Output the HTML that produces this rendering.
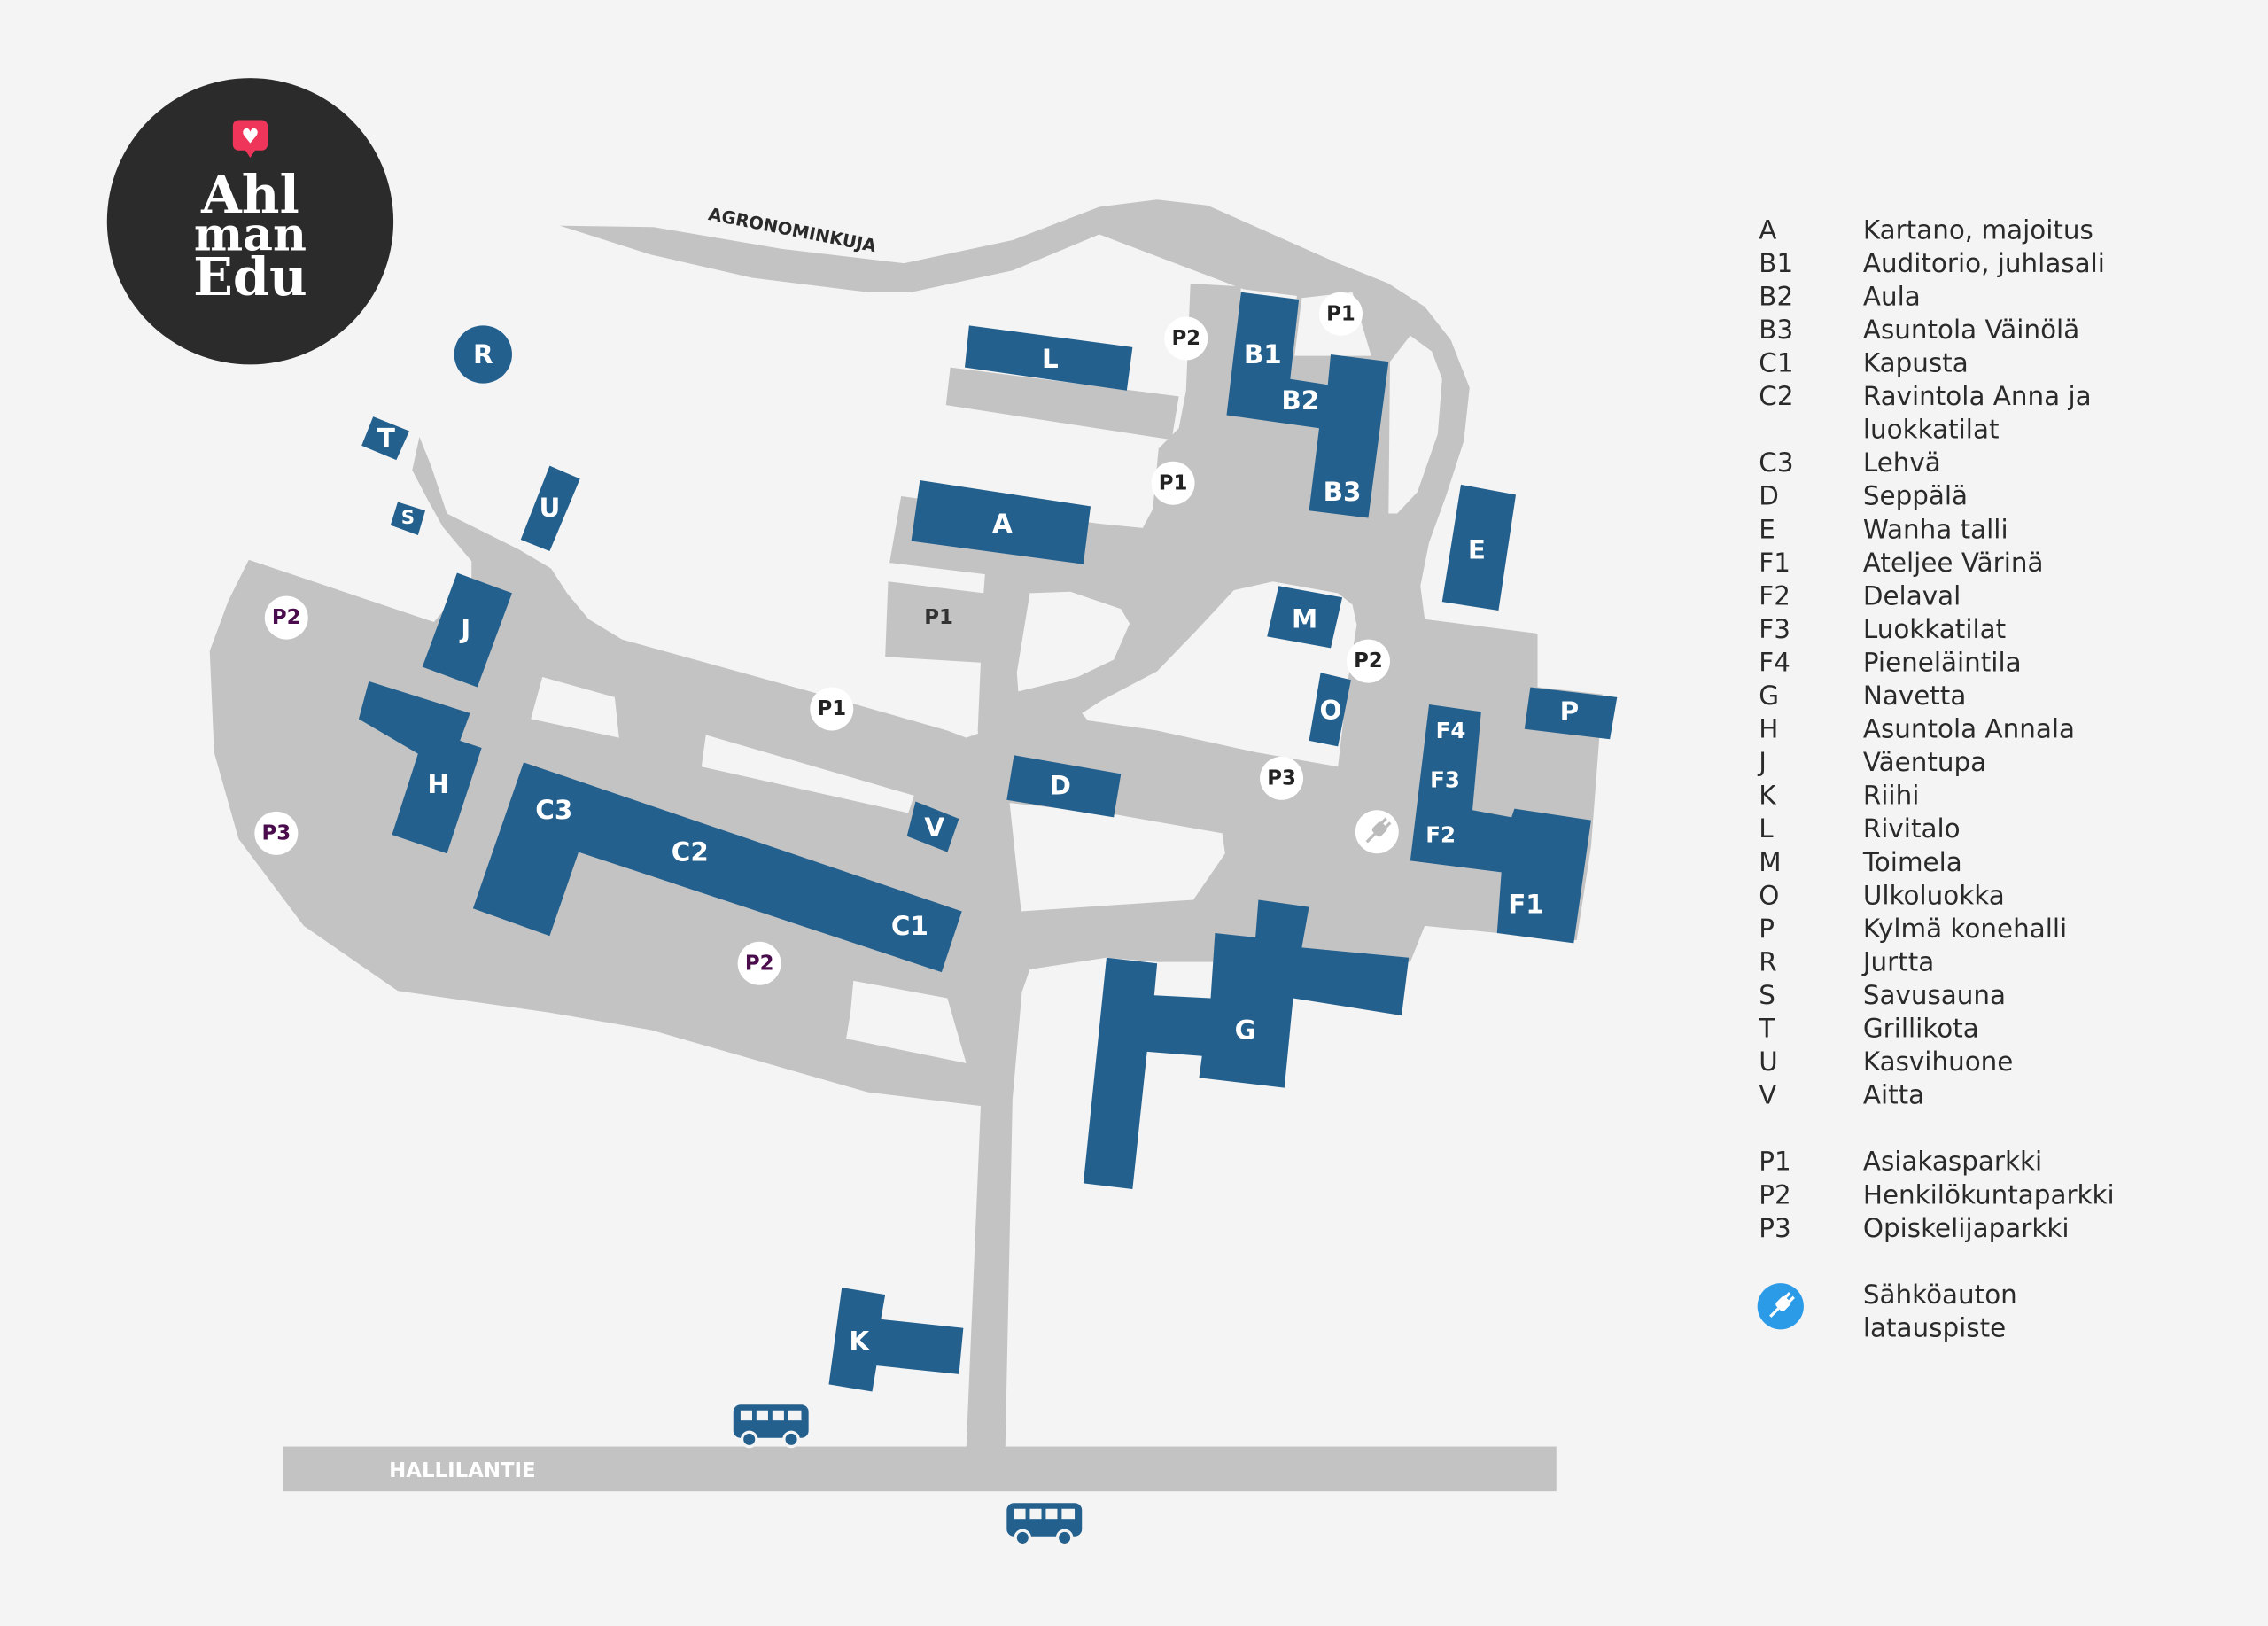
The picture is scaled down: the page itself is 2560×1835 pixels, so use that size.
<!DOCTYPE html>
<html><head><meta charset="utf-8"><style>
html,body{margin:0;padding:0;background:#f4f4f4;}
svg{display:block;}
.lb{font-family:"DejaVu Sans","Liberation Sans",Arial,sans-serif;font-weight:bold;fill:#fff;text-anchor:middle;dominant-baseline:central;}
.pk{font-family:"DejaVu Sans","Liberation Sans",Arial,sans-serif;font-weight:bold;fill:#222;font-size:14px;text-anchor:middle;dominant-baseline:central;}
.pp{fill:#4a0c4c;}
.lg{font-family:"DejaVu Sans","Liberation Sans",Arial,sans-serif;font-size:18px;fill:#2a2a2a;}
</style></head><body>
<svg width="2560" height="1835" viewBox="0 0 1568 1124" preserveAspectRatio="none" xmlns="http://www.w3.org/2000/svg">
<rect width="1568" height="1124" fill="#f4f4f4"/>
<g fill="#c3c3c3">
<polygon points="387,156 452,157 540,172 625,182 700,166 760,143 800,138 835,142 880,162 925,182 960,196 960,215 900,205 860,200 760,162 700,187 630,202 600,202 520,192 450,176"/>
<polygon points="657,254 815,274 810,304 654,280"/>
<polygon points="623,343 760,362 790,365 797,352 801,310 815,296 820,270 823,196 858,198 855,240 893,247 897,200 880,175 925,182 960,196 985,212 1003,235 1016,268 1012,305 1000,342 988,375 982,405 985,428 1063,438 1063,475 1108,480 1100,585 1090,650 1036,645 985,640 975,665 800,665 765,662 712,670 705,690 680,690 678,520 676,505 678,458 612,454 614,402 680,410 681,397 615,389"/>
<polygon points="172,387 300,430 326,399 326,388 306,364 296,346 285,325 290,302 298,322 309,355 359,380 381,393 392,410 407,428 430,442 560,478 655,505 668,510 682,505 682,765 600,755 530,735 450,712 380,700 275,685 210,640 165,580 148,520 145,450 158,415"/>
<polygon points="680,680 707,680 700,760 695,1002 668,1002 678,765"/>
<rect x="196" y="1000" width="880" height="31"/>
</g>
<g fill="#f4f4f4">
<polygon points="712,410 740,409 775,421 781,431 770,456 745,468 704,478 703,465"/>
<polygon points="748,493 762,484 800,464 828,435 853,408 880,402 925,410 935,418 938,432 932,470 925,530 868,520 800,505 752,498"/>
<polygon points="698,555 771,563 845,576 847,590 825,622 706,630"/>
<polygon points="975,232 990,243 997,262 994,300 980,340 966,355 960,355 961,250"/>
<polygon points="900,206 935,202 948,246 895,246"/>
<polygon points="375,468 425,482 428,510 367,497"/>
<polygon points="488,508 632,550 628,562 485,530"/>
<polygon points="590,678 655,690 668,735 585,718 588,700"/>
</g>
<g fill="#23608e">
<polygon points="670,225 783,240 779,270 667,254"/>
<polygon points="858,202 898,207 892,262 918,266 920,245 960,250 946,358 905,353 912,296 848,287"/>
<polygon points="636,332 754,350 749,390 630,374"/>
<polygon points="1010,335 1048,342 1036,422 997,416"/>
<polygon points="884,405 928,413 920,448 876,440"/>
<polygon points="913,465 934,470 925,516 905,512"/>
<polygon points="1058,475 1118,482 1113,511 1054,504"/>
<polygon points="988,487 1024,492 1018,560 1045,565 1047,559 1100,567 1088,652 1035,645 1038,603 975,595"/>
<polygon points="362,527 665,630 651,672 400,589 380,647 327,628"/>
<polygon points="316,396 354,410 330,475 292,461"/>
<polygon points="255,471 325,493 318,512 333,517 309,590 271,577 289,521 248,497"/>
<polygon points="380,322 401,331 380,381 360,373"/>
<polygon points="258,288 283,298 274,318 250,308"/>
<polygon points="275,347 294,353 289,370 270,363"/>
<circle cx="334" cy="245" r="20"/>
<polygon points="633,554 663,566 655,589 627,578"/>
<polygon points="701,522 775,535 770,565 696,553"/>
<polygon points="870,622 905,627 900,655 974,662 969,702 894,690 888,752 829,745 831,730 793,727 783,822 749,818 765,662 800,666 798,688 837,690 840,645 868,648"/>
<polygon points="582,890 612,895 609,912 666,918 663,950 606,944 603,962 573,957"/>
</g>
<g class="lb" font-size="18">
<text x="726" y="248">L</text><text x="873" y="245">B1</text><text x="899" y="277">B2</text><text x="928" y="340">B3</text>
<text x="693" y="362">A</text><text x="1021" y="380">E</text><text x="902" y="428">M</text><text x="920" y="491">O</text>
<text x="1085" y="492">P</text><text x="1003" y="505" font-size="15">F4</text><text x="999" y="539" font-size="15">F3</text><text x="996" y="577" font-size="15">F2</text><text x="1055" y="625">F1</text>
<text x="383" y="560">C3</text><text x="477" y="589">C2</text><text x="629" y="640">C1</text>
<text x="322" y="435">J</text><text x="303" y="542">H</text><text x="380" y="351">U</text><text x="267" y="303">T</text><text x="282" y="358" font-size="13">S</text>
<text x="334" y="245">R</text><text x="646" y="572">V</text><text x="733" y="543">D</text><text x="861" y="712">G</text><text x="594" y="927">K</text>
</g>
<g fill="#fff">
<circle cx="820" cy="234" r="15"/><circle cx="927" cy="217" r="15"/><circle cx="811" cy="334" r="15"/><circle cx="575" cy="490" r="15"/>
<circle cx="946" cy="457" r="15"/><circle cx="886" cy="538" r="15"/><circle cx="198" cy="427" r="15"/><circle cx="191" cy="576" r="15"/><circle cx="525" cy="666" r="15"/><circle cx="952" cy="575" r="15"/>
</g>
<g class="pk">
<text x="820" y="234">P2</text><text x="927" y="217">P1</text><text x="811" y="334">P1</text><text x="575" y="490">P1</text>
<text x="946" y="457">P2</text><text x="886" y="538">P3</text>
<text x="198" y="427" class="pk pp">P2</text><text x="191" y="576" class="pk pp">P3</text><text x="525" y="666" class="pk pp">P2</text>
<text x="649" y="427" fill="#333">P1</text>
</g>
<g transform="translate(952,575) rotate(45)" fill="#bbb"><rect x="-4" y="-7" width="8" height="9" rx="2"/><rect x="-3" y="-11" width="2" height="5"/><rect x="1" y="-11" width="2" height="5"/><rect x="-1" y="2" width="2" height="8"/></g>
<text x="547" y="163" transform="rotate(11 547 163)" font-family="DejaVu Sans,Liberation Sans,Arial,sans-serif" font-weight="bold" font-size="12" fill="#2a2a2a" text-anchor="middle">AGRONOMINKUJA</text>
<text x="269" y="1021" font-family="DejaVu Sans,Liberation Sans,Arial,sans-serif" font-weight="bold" font-size="14" fill="#fff">HALLILANTIE</text>
<g fill="#23608e">
<g transform="translate(507,971)"><rect x="0" y="0" width="52" height="23" rx="5"/><circle cx="11" cy="24" r="5" fill="#23608e" stroke="#f4f4f4" stroke-width="2"/><circle cx="40" cy="24" r="5" fill="#23608e" stroke="#f4f4f4" stroke-width="2"/><g fill="#f4f4f4"><rect x="5" y="4" width="8" height="7"/><rect x="16" y="4" width="8" height="7"/><rect x="27" y="4" width="8" height="7"/><rect x="38" y="4" width="9" height="7"/></g></g>
<g transform="translate(696,1039)"><rect x="0" y="0" width="52" height="23" rx="5"/><circle cx="11" cy="24" r="5" fill="#23608e" stroke="#f4f4f4" stroke-width="2"/><circle cx="40" cy="24" r="5" fill="#23608e" stroke="#f4f4f4" stroke-width="2"/><g fill="#f4f4f4"><rect x="5" y="4" width="8" height="7"/><rect x="16" y="4" width="8" height="7"/><rect x="27" y="4" width="8" height="7"/><rect x="38" y="4" width="9" height="7"/></g></g>
</g>
<circle cx="173" cy="153" r="99" fill="#2b2b2b"/>
<rect x="161" y="83" width="24" height="21" rx="4" fill="#f0355a"/><polygon points="169,103 177,103 173,109" fill="#f0355a"/>
<text x="173" y="99" font-size="14" fill="#fff" text-anchor="middle" font-family="DejaVu Sans,sans-serif">♥</text>
<g font-family="DejaVu Serif,Liberation Serif,serif" font-weight="bold" fill="#fff" text-anchor="middle">
<text x="173" y="147" font-size="36">Ahl</text><text x="173" y="173" font-size="32">man</text><text x="173" y="204" font-size="36">Edu</text>
</g>
<g class="lg">
<text x="1216" y="165">A</text><text x="1288" y="165">Kartano, majoitus</text>
<text x="1216" y="188">B1</text><text x="1288" y="188">Auditorio, juhlasali</text>
<text x="1216" y="211">B2</text><text x="1288" y="211">Aula</text>
<text x="1216" y="234">B3</text><text x="1288" y="234">Asuntola Väinölä</text>
<text x="1216" y="257">C1</text><text x="1288" y="257">Kapusta</text>
<text x="1216" y="280">C2</text><text x="1288" y="280">Ravintola Anna ja</text>
<text x="1288" y="303">luokkatilat</text>
<text x="1216" y="326">C3</text><text x="1288" y="326">Lehvä</text>
<text x="1216" y="349">D</text><text x="1288" y="349">Seppälä</text>
<text x="1216" y="372">E</text><text x="1288" y="372">Wanha talli</text>
<text x="1216" y="395">F1</text><text x="1288" y="395">Ateljee Värinä</text>
<text x="1216" y="418">F2</text><text x="1288" y="418">Delaval</text>
<text x="1216" y="441">F3</text><text x="1288" y="441">Luokkatilat</text>
<text x="1216" y="464">F4</text><text x="1288" y="464">Pieneläintila</text>
<text x="1216" y="487">G</text><text x="1288" y="487">Navetta</text>
<text x="1216" y="510">H</text><text x="1288" y="510">Asuntola Annala</text>
<text x="1216" y="533">J</text><text x="1288" y="533">Väentupa</text>
<text x="1216" y="556">K</text><text x="1288" y="556">Riihi</text>
<text x="1216" y="579">L</text><text x="1288" y="579">Rivitalo</text>
<text x="1216" y="602">M</text><text x="1288" y="602">Toimela</text>
<text x="1216" y="625">O</text><text x="1288" y="625">Ulkoluokka</text>
<text x="1216" y="648">P</text><text x="1288" y="648">Kylmä konehalli</text>
<text x="1216" y="671">R</text><text x="1288" y="671">Jurtta</text>
<text x="1216" y="694">S</text><text x="1288" y="694">Savusauna</text>
<text x="1216" y="717">T</text><text x="1288" y="717">Grillikota</text>
<text x="1216" y="740">U</text><text x="1288" y="740">Kasvihuone</text>
<text x="1216" y="763">V</text><text x="1288" y="763">Aitta</text>
<text x="1216" y="809">P1</text><text x="1288" y="809">Asiakasparkki</text>
<text x="1216" y="832">P2</text><text x="1288" y="832">Henkilökuntaparkki</text>
<text x="1216" y="855">P3</text><text x="1288" y="855">Opiskelijaparkki</text>
<text x="1288" y="901">Sähköauton</text>
<text x="1288" y="924">latauspiste</text>
</g>
<circle cx="1231" cy="903" r="16" fill="#2b9be8"/>
<g transform="translate(1231,903) rotate(45)" fill="#fff"><rect x="-4" y="-7" width="8" height="9" rx="2"/><rect x="-3" y="-11" width="2" height="5"/><rect x="1" y="-11" width="2" height="5"/><rect x="-1" y="2" width="2" height="8"/></g>
</svg>
</body></html>
